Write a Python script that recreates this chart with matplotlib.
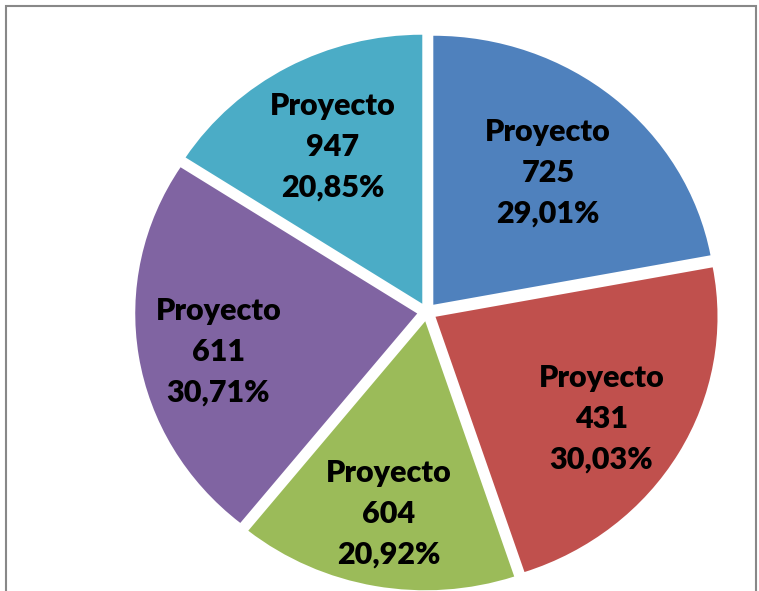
import numpy as np
import matplotlib
matplotlib.use("Agg")
import matplotlib.pyplot as plt
from matplotlib.patches import Rectangle

projects = ["725", "431", "604", "611", "947"]
percent_values = [29.01, 30.03, 20.92, 30.71, 20.85]
percent_labels = ["29,01%", "30,03%", "20,92%", "30,71%", "20,85%"]
colors = ["#4F81BD", "#C0504D", "#9BBB59", "#8064A2", "#4BACC6"]
# label placement inside each wedge: radial distance and small angle shift (deg)
label_dist = [0.638, 0.70, 0.728, 0.719, 0.663]
label_shift = [0.0, -2.3, 0.0, 2.3, 0.0]

W, H = 759, 591
cx, cy = 427, 312
sx, sy = 282, 269  # px per unit radius (picture is a bit stretched sideways)

fig = plt.figure(figsize=(W / 100, H / 100), dpi=100)
ax = fig.add_axes([0, 0, 1, 1])

wedges, _ = ax.pie(percent_values, colors=colors, startangle=90, counterclock=False,
                   explode=[0.035] * len(projects), radius=1.0)

for w, p, s, d, da in zip(wedges, projects, percent_labels, label_dist, label_shift):
    ang = np.deg2rad((w.theta1 + w.theta2) / 2 + da)
    x0, y0 = w.center
    ax.text(x0 + d * np.cos(ang), y0 + d * np.sin(ang), "Proyecto\n%s\n%s" % (p, s),
            ha="center", va="center", family="Lato", weight="heavy", fontsize=22,
            linespacing=1.55, color="black")

ax.set_aspect("auto")
ax.set_xlim(-cx / sx, (W - cx) / sx)
ax.set_ylim(-(H - cy) / sy, cy / sy)
ax.axis("off")

# chart frame (bottom edge falls outside the picture)
fig.patches.append(Rectangle((6 / W, -0.1), 750 / W, 1.1 - 6.5 / H, transform=fig.transFigure,
                             fill=False, edgecolor="#888888", linewidth=1.5))

fig.savefig("out.png", dpi=100)
